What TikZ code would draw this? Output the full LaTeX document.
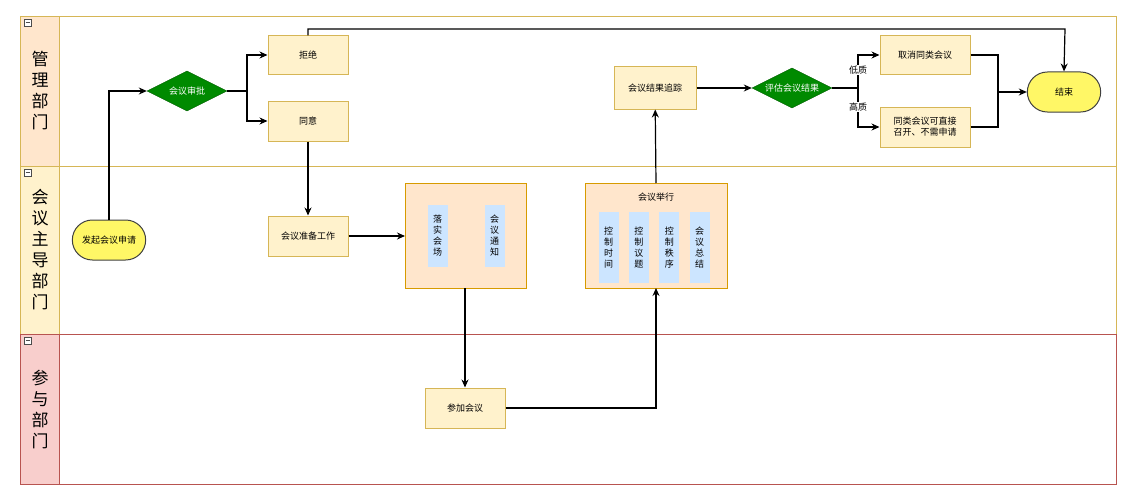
\documentclass[tikz,border=0pt]{standalone}
\usepackage{fontspec}
\setmainfont{Noto Sans CJK SC}
\usetikzlibrary{positioning,shapes.geometric,arrows.meta}
\definecolor{boxfill}{HTML}{FFF2CC}
\definecolor{boxline}{HTML}{D6B656}
\definecolor{grpfill}{HTML}{FFE6CC}
\definecolor{grpline}{HTML}{D79B00}
\definecolor{subfill}{HTML}{CCE5FF}
\definecolor{redfill}{HTML}{F8CECC}
\definecolor{redline}{HTML}{B85450}
\definecolor{dgreen}{HTML}{008A00}
\tikzset{
  every node/.style={font=\fontsize{9}{11}\selectfont},
  stepbox/.style={draw=boxline,fill=boxfill,line width=1pt,minimum width=80pt,minimum height=40pt,align=center,inner sep=2pt},
  decide/.style={diamond,draw=dgreen!70!black,fill=dgreen,text=white,minimum width=80pt,minimum height=40pt,inner sep=0pt,aspect=2},
  term/.style={rounded rectangle,draw=black!75,fill=yellow!60,line width=1pt,minimum width=80pt,minimum height=40pt},
  group/.style={draw=grpline,fill=grpfill,line width=1pt},
  sub/.style={fill=subfill,align=center,inner sep=1pt,minimum width=20pt,minimum height=62pt},
  lanehead/.style={font=\fontsize{17}{21}\selectfont,align=center},
  flow/.style={-{Stealth[length=8pt,width=7pt]},line width=1.2pt},
}
\usetikzlibrary{shapes.misc}
\begin{document}
\begin{tikzpicture}[x=1pt,y=-1pt]
  \useasboundingbox (0,0) rectangle (1132,495);
  % lanes
  \draw[boxline,fill=grpfill] (20,16) rectangle (59,166);
  \draw[boxline,fill=boxfill] (20,166) rectangle (59,334);
  \draw[redline,fill=redfill] (20,334) rectangle (59,484);
  \draw[boxline] (59,16) rectangle (1116,166);
  \draw[boxline] (59,166) rectangle (1116,334);
  \draw[redline] (59,334) rectangle (1116,484);
  \foreach \y in {19,169,337}
    \draw[black!70,fill=white] (24,\y) rectangle (31,\y+7) (25.5,\y+3.5) -- (29.5,\y+3.5);
  \node[lanehead] (lane1) at (40,91) {管\\理\\部\\门};
  \node[lanehead] (lane2) at (40,250) {会\\议\\主\\导\\部\\门};
  \node[lanehead] (lane3) at (40,409) {参\\与\\部\\门};

  \node[term] (start) at (109,240) {发起会议申请};
  \node[decide] (check) at (187,91) {会议审批};
  \node[stepbox,minimum height=38pt] (reject) at (308,55) {拒绝};
  \node[stepbox] (agree) at (308,121) {同意};
  \node[stepbox] (prep) at (308,236) {会议准备工作};

  \draw[group] (405,183) rectangle (526,288);
  \coordinate (g1in) at (405,236);
  \coordinate (g1out) at (465,288);
  \node[sub] (venue) at (437.5,236) {落\\实\\会\\场};
  \node[sub] (notice) at (494.5,236) {会\\议\\通\\知};

  \node[stepbox] (join) at (465,408) {参加会议};

  \draw[group] (585,183) rectangle (727,288);
  \coordinate (g2in) at (656,288);
  \coordinate (g2out) at (656,183);
  \node (holdtitle) at (656,197) {会议举行};
  \node[sub,minimum height=71pt] (s1) at (608.5,247.5) {控\\制\\时\\间};
  \node[sub,minimum height=71pt,right=10pt of s1] (s2) {控\\制\\议\\题};
  \node[sub,minimum height=71pt,right=10pt of s2] (s3) {控\\制\\秩\\序};
  \node[sub,minimum height=71pt,right=10pt of s3] (s4) {会\\议\\总\\结};

  \node[stepbox,minimum width=82pt,minimum height=42pt] (track) at (655,88) {会议结果追踪};
  \node[decide] (judge) at (792,88) {评估会议结果};
  \node[stepbox,minimum width=90pt,minimum height=38pt] (cancel) at (925,55) {取消同类会议};
  \node[stepbox,minimum width=90pt] (direct) at (925,127) {同类会议可直接\\召开、不需申请};
  \node[term] (finish) at (1064,92) {结束};

  \draw[flow] (start.north) |- (check.west);
  \draw[flow] (check.east) -- (247,91) |- (reject.west);
  \draw[flow] (247,91) |- (agree.west);
  \draw[flow] (reject.north) |- (1065,29) -- (finish.north);
  \draw[flow] (agree) -- (prep);
  \draw[flow] (prep) -- (g1in);
  \draw[flow] (g1out) -- (join);
  \draw[flow] (join.east) -| (g2in);
  \draw[flow] (g2out) -- (track);
  \draw[flow] (track) -- (judge);
  \draw[flow] (judge.east) -- (858,88) |- (cancel.west);
  \draw[flow] (858,88) |- (direct.west);
  \node[fill=white,inner sep=1pt] (low) at (858,70) {低质};
  \node[fill=white,inner sep=1pt] (high) at (858,107) {高质};
  \draw[flow] (cancel.east) -| (998,92) -- (finish.west);
  \draw[line width=1.2pt] (direct.east) -| (998,92);
\end{tikzpicture}
\end{document}
